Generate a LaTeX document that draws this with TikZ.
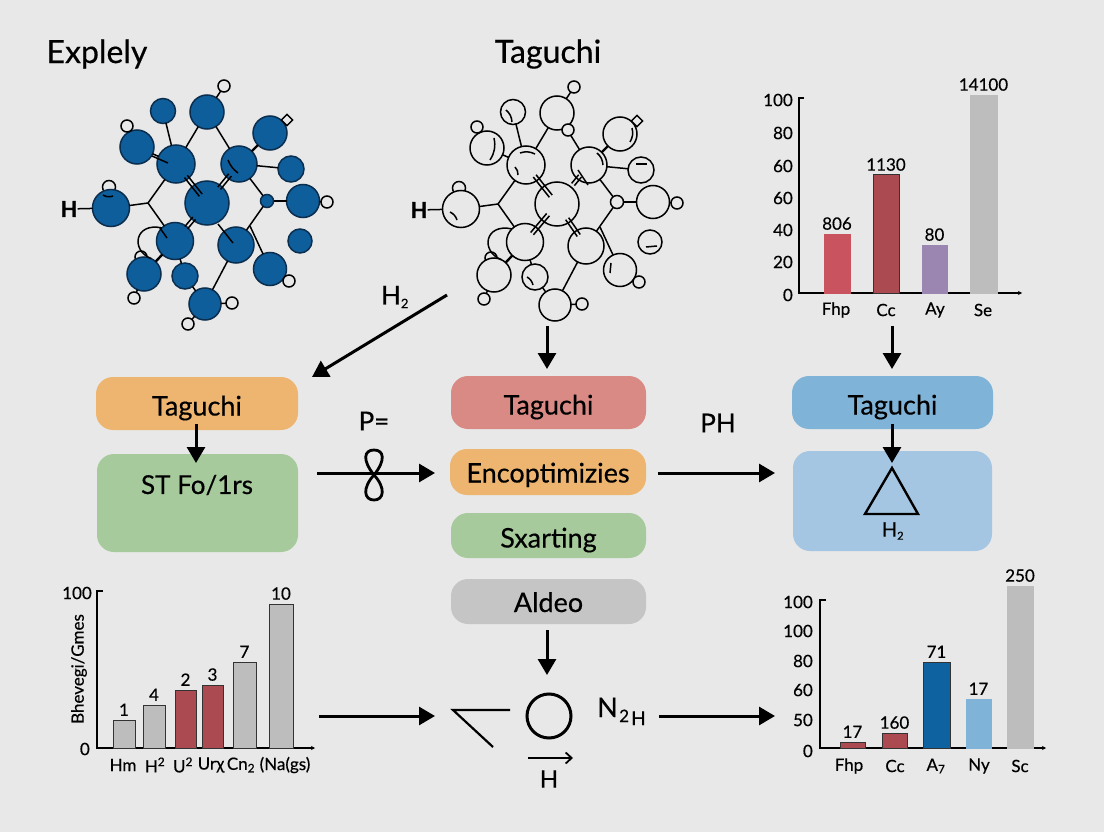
\documentclass[tikz,border=0pt]{standalone}
\usepackage{fontspec}
\setmainfont{Lato}[FakeBold=0.45]
\usetikzlibrary{arrows.meta,calc}
\definecolor{fond}{HTML}{E8E8E8}
\definecolor{molblue}{HTML}{0F5E9C}
\definecolor{molline}{HTML}{0B2E4F}
\definecolor{orangebox}{HTML}{EDB56F}
\definecolor{greenbox}{HTML}{A6CA9C}
\definecolor{pinkbox}{HTML}{D98A84}
\definecolor{greybox}{HTML}{C5C5C5}
\definecolor{bluehead}{HTML}{7FB3D8}
\definecolor{bluebox}{HTML}{A4C6E2}
\definecolor{barpink}{HTML}{C9545F}
\definecolor{barred}{HTML}{AB4A50}
\definecolor{barmauve}{HTML}{9A86B0}
\definecolor{bargrey}{HTML}{BDBDBD}
\definecolor{bardeep}{HTML}{0F62A0}
\tikzset{
	lab/.style={inner sep=0pt,font=\fontsize{#1}{#1}\selectfont},
	lab/.default=17,
	boite/.style={rounded corners=17pt,inner sep=0pt,text height=24pt,text depth=0pt,font=\fontsize{27}{27}\selectfont},
	fleche/.style={line width=3pt,-{Triangle[length=16pt,width=18pt]}},
	liaison/.style={line width=1.5pt},
	small/.style={circle,draw=black,fill=fond,line width=1.5pt,inner sep=0pt,outer sep=0pt,minimum size=12pt},
	axe/.style={line width=1.5pt,-{Stealth[length=4pt,width=4pt]}},
	pale/.style={line width=.9pt,draw=#1,fill=#1},
	dark/.style={line width=1pt,draw=black!80,fill=#1}
}
\newcommand{\atome}[3]{\node[atom,minimum size=#3] (#1) at (#2) {}}
\newcommand{\lien}[2]{\draw[liaison] (#1) -- (#2)}
\newcommand{\dbond}[4]{\draw[liaison] ($($(#1)!#3!(#2)$)!1.8pt!90:(#2)$) -- ($($(#1)!#4!(#2)$)!1.8pt!90:(#2)$);
	\draw[liaison] ($($(#1)!#3!(#2)$)!1.8pt!-90:(#2)$) -- ($($(#1)!#4!(#2)$)!1.8pt!-90:(#2)$)}
\newcommand{\trait}[2]{\draw[liaison] (#1) to[bend left=22] (#2)}
\newcommand{\baton}[7]{\draw[#6] (#2,#5) rectangle (#3,#4);
	\node[lab,anchor=south] (#1) at ({(#2+#3)/2},#4-4) {#7}}
\newcommand{\sbs}[2]{#1\textsubscript{\fontsize{#2}{#2}\selectfont 2}}
\newcommand{\molecule}{
	\node[small,minimum size=13pt] (hh) at (109,187) {};
	\atome{ha}{111,208}{37};
	\atome{cc}{207,203}{44};
	\atome{ul}{176,164}{38};
	\atome{ur}{239,164}{36};
	\atome{ll}{175,241}{37};
	\atome{lr}{236,245}{36};
	\atome{to}{207,112}{34};
	\atome{tl}{163,111}{25};
	\atome{wl}{137,147}{34};
	\atome{tr}{270,133}{34};
	\atome{ra}{291,169}{26};
	\atome{sm}{267,201}{13};
	\atome{rb}{303,201}{33};
	\atome{rc}{300,241}{24};
	\atome{br}{270,269}{33};
	\atome{bo}{205,304}{32};
	\atome{ba}{185,276}{26};
	\node[small] (wd) at (141,257) {};
	\atome{bb}{144,274}{34};
	\node[small] (wa) at (224,86) {};
	\node[small] (wb) at (127,126) {};
	\node[small] (wc) at (327,202) {};
	\node[small] (we) at (289,281) {};
	\node[small] (wf) at (232,303) {};
	\node[small] (wh) at (134,298) {};
	\node[small,rectangle,rotate=45,minimum size=8pt] (qu) at (287,120) {};
	\coordinate (ju) at (148,203);
	\coordinate (kn) at (250,226);
	\node[lab,font=\fontsize{22}{22}\selectfont\bfseries] (hl) at (69,209) {H};
	\lien{hl}{ha};
	\lien{ha}{ju};
	\lien{ju}{ul};
	\lien{ju}{ll};
	\lien{ul}{to};
	\lien{to}{ur};
	\lien{ul}{tl};
	\lien{ul}{wl};
	\draw[line width=2.4pt] (ur) -- (tr);
	\lien{ur}{ra};
	\lien{ur}{sm};
	\lien{sm}{rb};
	\lien{sm}{lr};
	\lien{kn}{br};
	\lien{lr}{bo};
	\draw[line width=2.4pt] (ll) -- (bb);
	\lien{ll}{ba};
	\lien{ba}{bo};
	\lien{to}{wa};
	\lien{wl}{wb};
	\lien{rb}{wc};
	\lien{br}{we};
	\lien{bo}{wf};
	\lien{bb}{wh};
	\lien{tr}{qu};
	\draw[liaison] (ll.135) .. controls (135,222) and (130,250) .. (bb.65);
}

\begin{document}
\begin{tikzpicture}[x=1pt,y=-1pt]
	\path[use as bounding box,fill=fond] (0,0) rectangle (1104,832);
%Titles
	\node[lab=32] (titlea) at (97,54) {Explely};
	\node[lab=32] (titleb) at (548,54) {Taguchi};
%The blue molecule
	\begin{scope}[name prefix=b-,atom/.style={circle,draw=molline,fill=molblue,line width=1.5pt,inner sep=0pt,outer sep=0pt}]
		\molecule
		\node[small] (b-wg) at (188,324) {};
		\lien{b-bo}{b-wg};
		\dbond{b-cc}{b-ul}{.2}{.68};
		\dbond{b-cc}{b-ur}{.38}{.72};
		\dbond{b-cc}{b-ll}{.4}{.65};
		\draw[liaison] (218,224) -- (233,243);
		\draw[liaison] (152,156) -- (168,163);
		\draw[liaison] (228,160) to[bend right=15] (238,173);
		\draw[liaison] (160,228) -- (167,238);
		\draw[liaison] (103,195) to[bend right=25] (113,196);
	\end{scope}
%The white molecule
	\begin{scope}[name prefix=w-,shift={(350,1)},atom/.style={circle,draw=black,fill=fond,line width=1.5pt,inner sep=0pt,outer sep=0pt}]
		\molecule
		\dbond{w-cc}{w-ul}{.2}{.72};
		\dbond{w-cc}{w-ur}{.5}{.72};
		\dbond{w-cc}{w-ll}{.28}{.78};
		\dbond{w-cc}{w-lr}{.35}{.75};
		\node[small] (w-xt) at (218,129) {};
		\trait{170,152}{185,153};
		\trait{165,166}{168,174};
		\trait{247,152}{253,164};
		\draw[liaison] (228,169) -- (238,184);
		\trait{144,137}{140,159};
		\trait{156,109}{162,121};
		\trait{282,127}{280,141};
		\draw[liaison] (286,163) -- (297,163);
		\draw[liaison] (296,246) -- (307,245);
		\draw[liaison] (261,262) -- (260,272);
		\trait{177,276}{183,284};
		\trait{100,211}{107,219};
	\end{scope}
%Arrow towards the left column
	\coordinate (moleft) at (447,295);
	\coordinate (orleft) at (312,377);
	\draw[fleche] (moleft) -- (orleft);
	\node[lab=26] (htwo) at (395,297) {\sbs{H}{13}};
%Left column
	\node[boite,fill=orangebox,minimum width=202pt,minimum height=53pt] (orangea) at (197,403.5) {Taguchi};
	\node[boite,fill=greenbox,minimum width=201pt,minimum height=98pt] (greena) at (197.5,503) {};
	\node[lab=26] (stlab) at (197,485) {ST Fo/1rs};
	\coordinate (oa) at (196,424);
	\coordinate (ob) at (196,463);
	\draw[fleche] (oa) -- (ob);
%Middle column
	\node[boite,fill=pinkbox,minimum width=195pt,minimum height=53pt] (pinkm) at (548.5,402.5) {Taguchi};
	\node[boite,fill=orangebox,text height=21pt,minimum width=196pt,minimum height=46pt] (orangem) at (548,472) {Encoptimizies};
	\node[boite,fill=greenbox,minimum width=195pt,minimum height=45pt] (greenm) at (548.5,535.5) {Sxarting};
	\node[boite,fill=greybox,text height=21pt,minimum width=195pt,minimum height=45pt] (greym) at (548.5,601.5) {Aldeo};
	\coordinate (mols) at (547,326);
	\coordinate (molt) at (547,369);
	\draw[fleche] (mols) -- (molt);
%Right column
	\node[boite,fill=bluehead,minimum width=201pt,minimum height=53pt] (bluer) at (892.5,402.5) {Taguchi};
	\node[boite,fill=bluebox,minimum width=199pt,minimum height=100pt] (bluel) at (892.5,501) {};
	\coordinate (ba) at (892,424);
	\coordinate (bb) at (892,463);
	\draw[fleche] (ba) -- (bb);
	\coordinate (grs) at (892,326);
	\coordinate (grt) at (892,369);
	\draw[fleche] (grs) -- (grt);
	\draw[line width=2.4pt,line join=miter] (892,468) -- (918,514) -- (865,514) -- cycle;
	\node[lab=20] (htwor) at (893,531) {\sbs{H}{11}};
%Between the columns
	\node[lab=26] (peq) at (374,421) {P=};
	\node[lab=26] (ph) at (718,423) {PH};
	\coordinate (gra) at (317,473);
	\coordinate (grz) at (435,473);
	\draw[fleche] (gra) -- (grz);
	\draw[line width=2.8pt] (374,475) .. controls (362,460) and (364,450) .. (374,450) .. controls (384,450) and (386,460) .. (374,475) .. controls (362,488) and (364,500) .. (374,500) .. controls (384,500) and (386,488) .. (374,475);
	\coordinate (grb) at (658,473);
	\coordinate (grc) at (775,473);
	\draw[fleche] (grb) -- (grc);
%Bottom middle
	\coordinate (gre) at (547,630);
	\coordinate (grf) at (547,675);
	\draw[fleche] (gre) -- (grf);
	\coordinate (grg) at (319,716);
	\coordinate (grh) at (435,716);
	\draw[fleche] (grg) -- (grh);
	\coordinate (gri) at (659,716);
	\coordinate (grj) at (775,716);
	\draw[fleche] (gri) -- (grj);
	\draw[line width=2.2pt,line join=miter] (510,710) -- (453,710) -- (493,747);
	\node[circle,draw,line width=3pt,minimum size=44pt,inner sep=0pt] (rond) at (549,716) {};
	\coordinate (ha) at (528,758);
	\coordinate (hb) at (573,758);
	\draw[line width=1.8pt,-{Straight Barb[length=6pt,width=11pt]}] (ha) -- (hb);
	\node[lab=24] (hbas) at (549,779) {H};
	\node[lab=27,anchor=base west] (nn) at (597,717) {N};
	\node[lab=17,anchor=base west] (nd) at (619,722) {2};
	\node[lab=19,anchor=base west] (nh) at (631,725) {H};
%First chart
	\draw[axe] (804,98) -- (799,98) -- (799,293) -- (1022,293);
	\node[lab,anchor=east] (ya) at (793,100) {100};
	\node[lab,anchor=east] (yb) at (793,133) {80};
	\node[lab,anchor=east] (yc) at (793,166) {60};
	\node[lab,anchor=east] (yd) at (793,198) {60};
	\node[lab,anchor=east] (ye) at (793,230) {40};
	\node[lab,anchor=east] (yf) at (793,262) {20};
	\node[lab,anchor=east] (yg) at (793,295) {0};
	\baton{va}{824}{850}{234}{293}{pale=barpink}{806};
	\baton{vb}{873}{899}{175}{293}{dark=barred}{1130};
	\baton{vc}{922}{947}{245}{293}{pale=barmauve}{80};
	\baton{vd}{970}{997}{95}{293}{pale=bargrey}{14100};
	\node[lab] (xa) at (836,310) {Fhp};
	\node[lab] (xb) at (886,310) {Cc};
	\node[lab] (xc) at (935,310) {Ay};
	\node[lab] (xd) at (983,310) {Se};
%Second chart
	\draw[axe] (103,591) -- (97,591) -- (97,748) -- (315,748);
	\node[lab,anchor=east] (za) at (92,593) {100};
	\node[lab,anchor=east] (zb) at (90,749) {0};
	\node[lab,rotate=90] (zt) at (79,669) {Bhevegi/Gmes};
	\baton{wa}{113}{135}{720}{748}{dark=bargrey}{1};
	\baton{wb}{143}{165}{705}{748}{dark=bargrey}{4};
	\baton{wc}{175}{196}{690}{748}{dark=barred}{2};
	\baton{wd}{202}{223}{685}{748}{dark=barred}{3};
	\baton{we}{233}{256}{662}{748}{dark=bargrey}{7};
	\baton{wf}{269}{293}{604}{748}{dark=bargrey}{10};
	\node[lab] (ua) at (123,765) {Hm};
	\node[lab] (ub) at (155,765) {H\textsuperscript{2}};
	\node[lab] (uc) at (183,765) {U\textsuperscript{2}};
	\node[lab] (ud) at (211,765) {Urχ};
	\node[lab] (ue) at (241,765) {Cn\textsubscript{2}};
	\node[lab] (uf) at (285,765) {(Na(gs)};
%Third chart
	\draw[axe] (826,600) -- (820,600) -- (820,748) -- (1046,748);
	\node[lab,anchor=east] (ra) at (813,602) {100};
	\node[lab,anchor=east] (rb) at (813,631) {100};
	\node[lab,anchor=east] (rc) at (813,661) {80};
	\node[lab,anchor=east] (rd) at (813,690) {60};
	\node[lab,anchor=east] (re) at (813,720) {50};
	\node[lab,anchor=east] (rf) at (813,751) {0};
	\baton{sa}{840}{865}{742}{748}{dark=barred}{17};
	\baton{sb}{882}{907}{733}{748}{dark=barred}{160};
	\baton{sc}{923}{950}{662}{748}{dark=bardeep}{71};
	\baton{sd}{966}{991}{699}{748}{pale=bluehead}{17};
	\baton{se}{1007}{1033}{586}{748}{pale=bargrey}{250};
	\node[lab] (ta) at (849,766) {Fhp};
	\node[lab] (tb) at (895,766) {Cc};
	\node[lab] (tc) at (936,766) {A\textsubscript{7}};
	\node[lab] (td) at (979,766) {Ny};
	\node[lab] (te) at (1020,766) {Sc};
\end{tikzpicture}
\end{document}
